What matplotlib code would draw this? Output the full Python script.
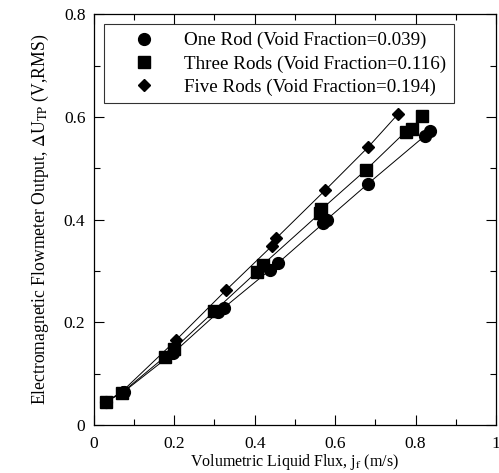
import matplotlib
matplotlib.use("Agg")
import matplotlib.pyplot as plt
from matplotlib.ticker import MultipleLocator

plt.rcParams['font.family'] = ['Liberation Serif', 'DejaVu Serif']
plt.rcParams['mathtext.fontset'] = 'stix'

# --- data ---
one_x = [0.03, 0.075, 0.197, 0.31, 0.323, 0.438, 0.459, 0.571, 0.579, 0.682, 0.823, 0.836]
one_y = [0.045, 0.065, 0.140, 0.220, 0.228, 0.302, 0.316, 0.393, 0.400, 0.470, 0.563, 0.572]

three_x = [0.03, 0.07, 0.177, 0.199, 0.30, 0.405, 0.42, 0.562, 0.566, 0.677, 0.775, 0.79, 0.815]
three_y = [0.045, 0.063, 0.133, 0.148, 0.222, 0.298, 0.312, 0.412, 0.420, 0.497, 0.571, 0.576, 0.602]

five_x = [0.03, 0.07, 0.204, 0.328, 0.442, 0.454, 0.575, 0.682, 0.757]
five_y = [0.045, 0.065, 0.165, 0.262, 0.348, 0.364, 0.457, 0.541, 0.606]

labels = ["One Rod (Void Fraction=0.039)",
          "Three Rods (Void Fraction=0.116)",
          "Five Rods (Void Fraction=0.194)"]

# --- plot ---
fig = plt.figure(figsize=(4.99, 4.73), dpi=100)
ax = fig.add_axes([0.188, 0.1015, 0.806, 0.8685])

ax.plot(one_x, one_y, '-', color='black', lw=0.7, marker='o', ms=8.5, label=labels[0])
ax.plot(three_x, three_y, '-', color='black', lw=0.7, marker='s', ms=8, label=labels[1])
ax.plot(five_x, five_y, '-', color='black', lw=0.7, marker='D', ms=6, label=labels[2])

ax.set_xlim(0, 1)
ax.set_ylim(0, 0.8)
ax.xaxis.set_minor_locator(MultipleLocator(0.1))
ax.yaxis.set_minor_locator(MultipleLocator(0.1))
ax.set_xticks([0, 0.2, 0.4, 0.6, 0.8, 1.0])
ax.set_xticklabels(["0", "0.2", "0.4", "0.6", "0.8", "1"])
ax.set_yticks([0, 0.2, 0.4, 0.6, 0.8])
ax.set_yticklabels(["0", "0.2", "0.4", "0.6", "0.8"])
ax.tick_params(which='both', direction='in', top=True, right=True, labelsize=12.5)
ax.tick_params(axis='x', which='major', pad=8)
ax.tick_params(axis='y', which='major', pad=6)
ax.tick_params(which='major', length=7, width=0.8)
ax.tick_params(which='minor', length=4, width=0.8)
for s in ax.spines.values():
    s.set_linewidth(0.9)

ax.set_xlabel("Volumetric Liquid Flux, j$_\\mathrm{f}$ (m/s)", fontsize=11.5, labelpad=0)
ax.set_ylabel("Electromagnetic Flowmeter Output, $\\Delta$U$_\\mathrm{TP}$ (V,RMS)",
              fontsize=12.7, labelpad=9)

leg = ax.legend(loc='upper left', bbox_to_anchor=(0.025, 0.975), borderaxespad=0,
                fontsize=13.7, frameon=True, fancybox=False, edgecolor='black',
                handlelength=3.4, handletextpad=0.4, borderpad=0.4, labelspacing=0.3)
leg.get_frame().set_linewidth(0.8)
for h in leg.legend_handles:
    h.set_linestyle('none')

fig.savefig("out.png", dpi=100)
